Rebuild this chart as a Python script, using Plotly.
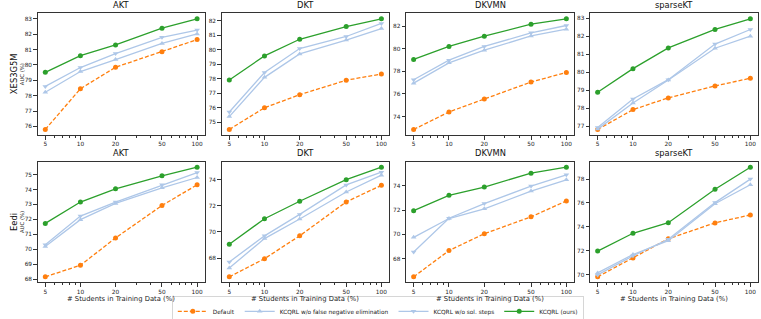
import math
import plotly.graph_objects as go
from plotly.subplots import make_subplots

X_PCT = [5, 10, 20, 50, 100]
X_TICKTEXT = ["5", "10", "20", "50", "100"]
MODELS = ["AKT", "DKT", "DKVMN", "sparseKT"]
DATASETS = ["XES3G5M", "Eedi"]
SERIES_NAMES = ["Default", "KCQRL w/o false negative elimination",
                "KCQRL w/o sol. steps", "KCQRL (ours)"]

# XES3G5M rows: AKT, DKT, DKVMN, sparseKT
XES_DEFAULT = [
    [75.8, 78.45, 79.85, 80.85, 81.65],
    [74.5, 76.0, 76.9, 77.9, 78.33],
    [72.85, 74.4, 75.55, 77.05, 77.9],
    [76.83, 77.93, 78.58, 79.24, 79.67],
]
XES_NO_FNE = [
    [78.22, 79.57, 80.35, 81.4, 82.02],
    [75.39, 78.1, 79.72, 80.67, 81.47],
    [76.95, 78.75, 79.87, 81.14, 81.73],
    [76.85, 78.3, 79.57, 81.33, 82.0],
]
XES_NO_STEPS = [
    [78.6, 79.83, 80.74, 81.8, 82.27],
    [75.71, 78.43, 80.09, 80.92, 81.82],
    [77.25, 78.99, 80.2, 81.41, 82.06],
    [76.94, 78.52, 79.59, 81.56, 82.37],
]
XES_OURS = [
    [79.52, 80.6, 81.3, 82.39, 83.0],
    [77.92, 79.58, 80.73, 81.61, 82.14],
    [79.05, 80.2, 81.11, 82.18, 82.65],
    [78.89, 80.2, 81.35, 82.37, 82.96],
]
# Eedi rows: AKT, DKT, DKVMN, sparseKT
EEDI_DEFAULT = [
    [68.16, 68.93, 70.76, 72.93, 74.31],
    [66.56, 67.95, 69.7, 72.3, 73.57],
    [66.5, 68.66, 70.05, 71.44, 72.75],
    [69.81, 71.38, 73.0, 74.33, 75.0],
]
EEDI_NO_FNE = [
    [70.18, 71.98, 73.07, 74.11, 74.8],
    [67.24, 69.49, 70.99, 73.06, 74.35],
    [69.75, 71.3, 72.1, 73.56, 74.49],
    [70.14, 71.68, 72.84, 75.94, 77.53],
]
EEDI_NO_STEPS = [
    [70.31, 72.22, 73.16, 74.31, 75.13],
    [67.7, 69.7, 71.34, 73.6, 74.58],
    [68.55, 71.33, 72.53, 73.97, 74.9],
    [69.97, 71.57, 72.96, 76.03, 78.0],
]
EEDI_OURS = [
    [71.73, 73.16, 74.04, 74.91, 75.49],
    [69.06, 71.01, 72.35, 74.0, 74.96],
    [71.95, 73.21, 73.89, 75.04, 75.53],
    [71.97, 73.46, 74.35, 77.15, 79.0],
]
Y_DTICK = [[1, 1, 2, 1], [1, 2, 2, 2]]

ROWS = [
    [XES_DEFAULT, XES_NO_FNE, XES_NO_STEPS, XES_OURS],
    [EEDI_DEFAULT, EEDI_NO_FNE, EEDI_NO_STEPS, EEDI_OURS],
]

W, H = 761, 319
COLORS = ["#ff7f0e", "#aec7e8", "#aec7e8", "#2ca02c"]
SYMBOLS = ["circle", "triangle-up", "triangle-down", "circle"]
DASHES = ["4px,2px", "solid", "solid", "solid"]
FONT = "DejaVu Sans"
AXC = "#333333"
TICK_FONT = dict(family=FONT, size=5.8, color="#222")

COL_PX = [(37.7, 204.7), (221.7, 389.0), (406.0, 574.0), (590.0, 758.0)]
ROW_PX = [(13.3, 135.0), (161.7, 282.3)]

fig = make_subplots(rows=2, cols=4)

xlo, xhi = math.log10(5), math.log10(100)
xm = 0.05 * (xhi - xlo)
minor_vals = [6, 7, 8, 9, 30, 40, 60, 70, 80, 90]

for r in range(2):
    for c in range(4):
        allv = []
        for s in range(4):
            ys = ROWS[r][s][c]
            allv += ys
            fig.add_trace(go.Scatter(
                x=X_PCT, y=ys, mode="lines+markers", name=SERIES_NAMES[s],
                line=dict(color=COLORS[s], width=1.3, dash=DASHES[s]),
                marker=dict(color=COLORS[s], size=5, symbol=SYMBOLS[s],
                            line=dict(width=0)),
                showlegend=(r == 0 and c == 0), legendrank=s + 1,
            ), row=r + 1, col=c + 1)
        lo, hi = min(allv), max(allv)
        m = 0.05 * (hi - lo)
        idx = r * 4 + c + 1
        xa = "xaxis" if idx == 1 else f"xaxis{idx}"
        ya = "yaxis" if idx == 1 else f"yaxis{idx}"
        x0, x1 = COL_PX[c]
        y0, y1 = ROW_PX[r]
        fig.layout[xa].update(
            type="log", range=[xlo - xm, xhi + xm],
            domain=[x0 / W, x1 / W],
            tickmode="array", tickvals=X_PCT, ticktext=X_TICKTEXT,
            ticks="outside", ticklen=3.5, tickwidth=0.8, tickcolor=AXC,
            minor=dict(tickmode="array", tickvals=minor_vals, ticks="outside",
                       ticklen=2, tickwidth=0.6, tickcolor=AXC, showgrid=False),
            showline=True, mirror=True, linecolor=AXC, linewidth=1,
            showgrid=False, zeroline=False, automargin=False,
            tickfont=TICK_FONT,
        )
        if r == 1:
            fig.add_annotation(text="# Students in Training Data (%)",
                               xref="paper", yref="paper",
                               x=(x0 + x1) / 2 / W, y=1 - 299 / H,
                               xanchor="center", yanchor="middle",
                               showarrow=False,
                               font=dict(family=FONT, size=6.8, color="#222"))
        fig.layout[ya].update(
            range=[lo - m, hi + m], domain=[1 - y1 / H, 1 - y0 / H],
            dtick=Y_DTICK[r][c], tick0=0,
            ticks="outside", ticklen=3.5, tickwidth=0.8, tickcolor=AXC,
            showline=True, mirror=True, linecolor=AXC, linewidth=1,
            showgrid=False, zeroline=False, automargin=False,
            tickfont=TICK_FONT,
        )
        # panel title
        fig.add_annotation(text=MODELS[c], xref="paper", yref="paper",
                           x=(x0 + x1) / 2 / W, y=1 - (y0 - 1.5) / H,
                           xanchor="center", yanchor="bottom", showarrow=False,
                           font=dict(family=FONT, size=8.3, color="#111"))

for r in range(2):
    y0, y1 = ROW_PX[r]
    yc = 1 - (y0 + y1) / 2 / H
    fig.add_annotation(text=DATASETS[r], xref="paper", yref="paper",
                       x=14 / W, y=yc, textangle=-90, showarrow=False,
                       xanchor="center", yanchor="middle",
                       font=dict(family=FONT, size=8.4, color="#111"))
    fig.add_annotation(text="AUC (%)", xref="paper", yref="paper",
                       x=22 / W, y=yc, textangle=-90, showarrow=False,
                       xanchor="center", yanchor="middle",
                       font=dict(family=FONT, size=5.3, color="#222"))

fig.update_layout(
    width=W, height=H, margin=dict(l=0, r=0, t=0, b=0, autoexpand=False),
    paper_bgcolor="white", plot_bgcolor="white",
    font=dict(family=FONT, size=7, color="#222"),
    legend=dict(orientation="h", x=378 / W, xanchor="center",
                y=1 - 311.5 / H, yanchor="middle",
                bordercolor="#cccccc", borderwidth=0.8, bgcolor="white",
                font=dict(family=FONT, size=5.8, color="#222"),
                itemwidth=30, tracegroupgap=0, traceorder="normal"),
)

fig.write_html("out.html",
               config={"displayModeBar": False},
               post_script="document.body.style.margin='0';"
                           "document.body.style.overflow='hidden';")
